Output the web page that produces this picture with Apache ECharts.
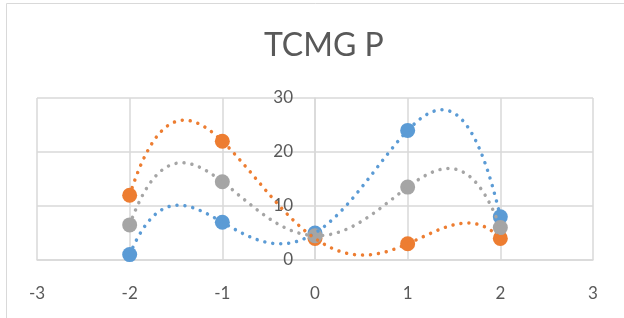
<!DOCTYPE html>
<html>
<head>
<meta charset="utf-8">
<script src="https://cdn.jsdelivr.net/npm/echarts@6/dist/echarts.min.js"></script>
<style>
  html, body { margin: 0; padding: 0; background: #fff; }
  #chart { width: 624px; height: 318px; }
</style>
</head>
<body>
<div id="chart"></div>
<script>
const xValues = [-2, -1, 0, 1, 2]
const blueValues = [1, 7, 5, 24, 8]
const orangeValues = [12, 22, 4, 3, 4]
const grayValues = [6.5, 14.5, 4.5, 13.5, 6]
const xTicks = [-3, 3, 1]
const yTicks = [0, 30, 10]

const chartInstance = echarts.init(document.getElementById('chart'))

const font = 'Lato, "Open Sans", sans-serif'
const gridColor = '#d9d9d9'
const textColor = '#595959'

// polynomial trendline (order 4 through the 5 points, like the spreadsheet's trendline)
const polyAt = (xs, ys, x) => {
  let sum = 0
  for (let i = 0; i < xs.length; i++) {
    let term = ys[i]
    for (let j = 0; j < xs.length; j++) {
      if (j !== i) term *= (x - xs[j]) / (xs[i] - xs[j])
    }
    sum += term
  }
  return sum
}

const markerSeries = (name, values, color) => ({
  name,
  type: 'scatter',
  symbol: 'circle',
  symbolSize: 15,
  z: 3,
  itemStyle: { color, opacity: 1 },
  data: xValues.map((x, i) => [x, values[i]])
})

const trendSeries = (name, values, color) => ({
  name: name + ' trend',
  type: 'custom',
  z: 4,
  silent: true,
  data: xValues.map((x, i) => [x, values[i]]),
  renderItem: (params, api) => {
    if (params.dataIndex !== 0) return
    const x0 = xValues[0]
    const x1 = xValues[xValues.length - 1]
    const steps = 300
    const points = []
    for (let k = 0; k <= steps; k++) {
      const x = x0 + (x1 - x0) * k / steps
      points.push(api.coord([x, polyAt(xValues, values, x)]))
    }
    return {
      type: 'polyline',
      shape: { points },
      style: {
        fill: null,
        stroke: color,
        lineWidth: 3.5,
        lineDash: [0.01, 8],
        lineCap: 'round'
      }
    }
  }
})

const option = {
  animation: false,
  title: {
    text: 'TCMG P',
    left: 259,
    top: 25,
    textStyle: { fontFamily: font, fontSize: 32, fontWeight: 'normal', color: textColor }
  },
  graphic: [
    {
      type: 'rect',
      shape: { x: 6.5, y: 3.5, width: 700, height: 400 },
      style: { fill: null, stroke: gridColor, lineWidth: 1 },
      silent: true
    }
  ],
  grid: { left: 37, right: 31, top: 98, bottom: 58 },
  xAxis: {
    type: 'value',
    min: xTicks[0],
    max: xTicks[1],
    interval: xTicks[2],
    axisLine: { onZero: true, lineStyle: { color: gridColor, width: 1.5 } },
    axisTick: { show: false },
    axisLabel: { fontFamily: font, fontSize: 17, color: textColor, margin: 25 },
    splitLine: { lineStyle: { color: gridColor, width: 1.5 } }
  },
  yAxis: {
    type: 'value',
    min: yTicks[0],
    max: yTicks[1],
    interval: yTicks[2],
    offset: -278,
    axisLine: { show: true, onZero: false, lineStyle: { color: gridColor, width: 1.5 } },
    axisTick: { show: false },
    axisLabel: { fontFamily: font, fontSize: 17, color: textColor, margin: 22 },
    splitLine: { lineStyle: { color: gridColor, width: 1.5 } }
  },
  series: [
    markerSeries('Blue', blueValues, '#5B9BD5'),
    markerSeries('Orange', orangeValues, '#ED7D31'),
    markerSeries('Gray', grayValues, '#A5A5A5'),
    trendSeries('Blue', blueValues, '#5B9BD5'),
    trendSeries('Orange', orangeValues, '#ED7D31'),
    trendSeries('Gray', grayValues, '#A5A5A5')
  ]
}

chartInstance.setOption(option)
</script>
</body>
</html>
